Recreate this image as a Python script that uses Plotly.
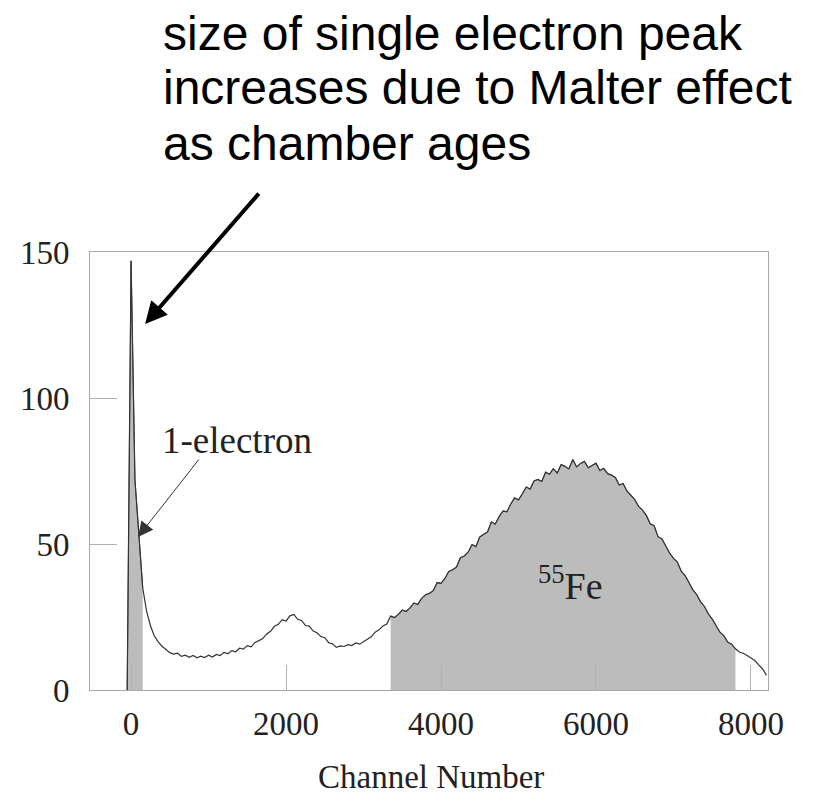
import plotly.graph_objects as go

# Channel numbers (bin centres) and counts
channels = [-50] + list(range(0, 8201, 50))
counts = [0,
    # 0 - 950
    147, 72, 52, 35, 27, 22, 18.5, 16.5, 15, 14, 12.8, 12.3, 12.6, 11.5, 11.9, 11.2, 11.8, 11.0, 11.6, 11.1,
    # 1000 - 1950
    11.9, 11.3, 12.2, 11.8, 12.9, 12.4, 13.5, 13.1, 14.3, 14.0, 15.2, 14.8, 16.3, 16.9, 17.6, 19.2, 20.1, 21.8, 22.5, 24.1,
    # 2000 - 2950
    23.6, 25.4, 25.9, 24.2, 23.8, 22.1, 21.9, 20.2, 19.6, 18.3, 17.9, 16.2, 15.8, 14.6, 15.1, 14.9, 15.5, 15.2, 16.1, 15.7,
    # 3000 - 3950
    16.6, 17.5, 18.2, 19.8, 20.6, 21.9, 22.6, 25.3, 24.8, 25.9, 27.4, 26.9, 28.1, 29.8, 29.3, 31.4, 32.6, 33.1, 34.0, 36.8,
    # 4000 - 4950
    36.5, 38.2, 40.6, 41.2, 42.1, 45.3, 45.9, 47.2, 49.8, 49.1, 52.4, 53.3, 54.1, 57.6, 56.8, 59.4, 61.3, 61.0, 63.7, 65.8,
    # 5000 - 5950
    65.1, 67.2, 69.5, 68.8, 71.6, 72.1, 71.4, 74.6, 73.9, 75.8, 74.3, 77.2, 76.6, 75.7, 78.9, 76.4, 77.6, 78.3, 76.1, 76.9,
    # 6000 - 6950
    77.7, 75.2, 75.9, 74.1, 73.6, 72.8, 70.2, 70.7, 68.1, 66.7, 65.2, 62.9, 61.6, 59.8, 56.9, 56.3, 52.5, 51.8, 49.2, 46.9,
    # 7000 - 7950
    45.1, 43.8, 40.7, 39.2, 36.8, 34.3, 32.7, 30.2, 28.6, 26.1, 24.3, 22.0, 19.8, 18.6, 16.4, 15.7, 14.1, 13.0, 12.6, 11.8,
    # 8000 - 8200
    10.9, 10.1, 8.6, 7.2, 5.1]

one_e_range = (-50, 150)      # shaded single-electron region
fe_range = (3350, 7800)       # shaded 55Fe region

x_ticks = [0, 2000, 4000, 6000, 8000]
y_ticks = [0, 50, 100, 150]

def subset(lo, hi):
    xs = [c for c in channels if lo <= c <= hi]
    ys = [v for c, v in zip(channels, counts) if lo <= c <= hi]
    return xs, ys

fig = go.Figure()
for lo, hi in (one_e_range, fe_range):
    xs, ys = subset(lo, hi)
    fig.add_trace(go.Scatter(x=xs, y=ys, mode="lines", fill="tozeroy",
                             fillcolor="#bcbcbc", line=dict(color="#555555", width=1),
                             hoverinfo="skip", showlegend=False))
fig.add_trace(go.Scatter(x=channels, y=counts, mode="lines",
                         line=dict(color="#333333", width=1.2), showlegend=False))

# geometry (figure pixels; the page adds an 8px body offset)
OFF = 8
L, R, T, B = 90 - OFF, 768 - OFF, 252 - OFF, 690 - OFF
def px(x): return (x - OFF - L) / (R - L)
def py(y): return (B - (y - OFF)) / (B - T)

sans = "Liberation Sans, Arial, Helvetica, sans-serif"
serif = "Liberation Serif, Times New Roman, serif"

lines = ["size of single electron peak", "increases due to Malter effect", "as chamber ages"]
for i, t in enumerate(lines):
    fig.add_annotation(text=t, xref="paper", yref="paper", x=px(161), y=py(33 + 55 * i),
                       xanchor="left", yanchor="middle", showarrow=False,
                       font=dict(family=sans, size=48, color="black"))

# big arrow
fig.add_annotation(x=181, y=125.3, xref="x", yref="y", text="", showarrow=True,
                   ax=115, ay=-132, arrowhead=2, arrowsize=1.1, arrowwidth=4,
                   arrowcolor="black")
# 1-electron label and arrow
fig.add_annotation(text="1-electron", xref="paper", yref="paper", x=px(237), y=py(440),
                   xanchor="center", yanchor="middle", showarrow=False,
                   font=dict(family=serif, size=37, color="#222222"))
fig.add_annotation(x=90, y=52.4, xref="x", yref="y", text="", showarrow=True,
                   ax=62, ay=-79, arrowhead=2, arrowsize=3, arrowwidth=1,
                   arrowcolor="#333333")
fig.add_annotation(text="<sup>55</sup>Fe", xref="paper", yref="paper", x=px(570), y=py(583),
                   xanchor="center", yanchor="middle", showarrow=False,
                   font=dict(family=serif, size=38, color="#222222"))
fig.add_annotation(text="Channel Number", xref="paper", yref="paper", x=px(431), y=py(777),
                   xanchor="center", yanchor="middle", showarrow=False,
                   font=dict(family=serif, size=33, color="#222222"))

fig.update_xaxes(range=[-530, 8220], tickvals=x_ticks, ticks="inside", ticklen=25,
                 tickcolor="#b0b0b0", showgrid=False, zeroline=False, showline=True,
                 linecolor="#a8a8a8", linewidth=1, mirror=True, ticklabelstandoff=4,
                 tickfont=dict(family=serif, size=33, color="#222222"))
fig.update_yaxes(range=[0, 150], tickvals=y_ticks, ticks="inside", ticklen=27,
                 tickcolor="#b0b0b0", showgrid=False, zeroline=False, showline=True,
                 linecolor="#a8a8a8", linewidth=1, mirror=True, ticklabelstandoff=13,
                 tickfont=dict(family=serif, size=33, color="#222222"))
fig.update_layout(width=821, height=804, margin=dict(l=L, r=821 - R, t=T, b=804 - B),
                  paper_bgcolor="white", plot_bgcolor="white")
fig.write_html("out.html")
